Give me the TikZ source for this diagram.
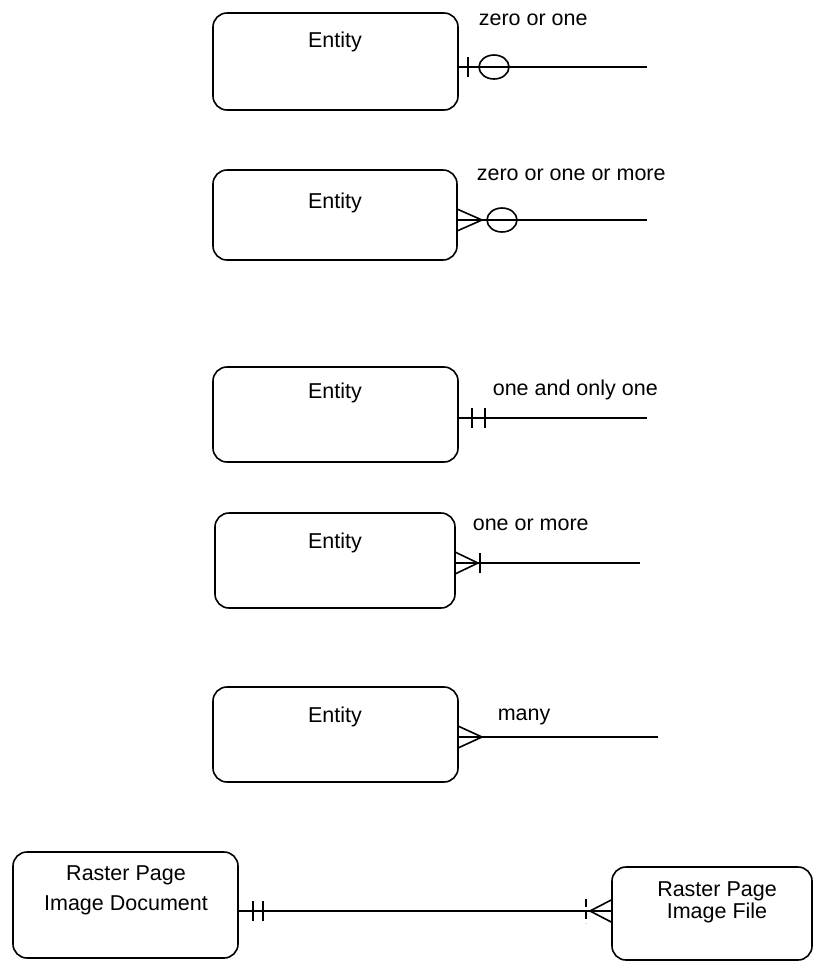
\documentclass[tikz,border=0pt]{standalone}
\usepackage{fontspec}
\setmainfont{Liberation Sans}
\begin{document}
\begin{tikzpicture}[x=1pt,y=-1pt,line width=1.6pt,
  ebox/.style={draw,rounded corners=14pt,inner sep=0pt},
  etext/.style={anchor=base,inner sep=0pt,font=\fontsize{21.5}{21.5}\selectfont},
  ltext/.style={anchor=base west,inner sep=0pt,font=\fontsize{21.5}{21.5}\selectfont},
  conn/.style={draw,line width=1.6pt},
  tick/.style={line width=1.3pt}]
\useasboundingbox (0,0) rectangle (814,962);

% boxes
\node[ebox,minimum width=245pt,minimum height=97pt] (e1) at (335.5,61.5) {};
\node[ebox,minimum width=244pt,minimum height=90pt] (e2) at (335,215) {};
\node[ebox,minimum width=245pt,minimum height=95pt] (e3) at (335.5,414.5) {};
\node[ebox,minimum width=240pt,minimum height=95pt] (e4) at (335,560.5) {};
\node[ebox,minimum width=245pt,minimum height=95pt] (e5) at (335.5,734.5) {};
\node[ebox,minimum width=225pt,minimum height=106pt] (e6) at (125.5,905) {};
\node[ebox,minimum width=200pt,minimum height=93pt] (e7) at (712,913.5) {};

% box texts
\node[etext] (t1) at (335,47) {Entity};
\node[etext] (t2) at (335,208) {Entity};
\node[etext] (t3) at (335,398) {Entity};
\node[etext] (t4) at (335,548) {Entity};
\node[etext] (t5) at (335,722) {Entity};
\node[etext] (t6a) at (126,880) {Raster Page};
\node[etext] (t6b) at (126,910) {Image Document};
\node[etext] (t7a) at (717,896) {Raster Page};
\node[etext] (t7b) at (717,918) {Image File};

% labels
\node[ltext] (l1) at (478,25) {zero or one};
\node[ltext] (l2) at (476,180) {zero or one or more};
\node[ltext] (l3) at (492,395) {one and only one};
\node[ltext] (l4) at (472,530) {one or more};
\node[ltext] (l5) at (497,720) {many};

% ends
\coordinate (b1) at (647,67);
\coordinate (b2) at (647,220);
\coordinate (b3) at (647,418);
\coordinate (b4) at (640,563);
\coordinate (b5) at (658,737);

% 1: zero or one
\draw[conn] (e1.east |- b1) -- (b1);
\draw[tick] (468,57) -- (468,77);
\draw[conn] (494,67) ellipse [x radius=15, y radius=12];

% 2: zero or one or more
\draw[conn] (e2.east |- b2) -- (b2);
\coordinate (f2) at (482,220);
\draw[conn] (457,209) -- (f2) -- (457,231);
\draw[conn] (502,220) ellipse [x radius=15, y radius=12];

% 3: one and only one
\draw[conn] (e3.east |- b3) -- (b3);
\draw[tick] (472,408) -- (472,428);
\draw[tick] (485,408) -- (485,428);

% 4: one or more
\draw[conn] (e4.east |- b4) -- (b4);
\coordinate (f4) at (478,563);
\draw[conn] (455,552) -- (f4) -- (455,574);
\draw[tick] (480,553) -- (480,573);

% 5: many
\draw[conn] (e5.east |- b5) -- (b5);
\coordinate (f5) at (482,737);
\draw[conn] (458,726) -- (f5) -- (458,748);

% 6: relationship
\coordinate (m6) at (400,911);
\draw[conn] (e6.east |- m6) -- (e7.west |- m6);
\draw[tick] (253,901) -- (253,921);
\draw[tick] (263,901) -- (263,921);
\coordinate (f7) at (590,911);
\draw[conn] (e7.west |- 0,900) -- (f7) -- (e7.west |- 0,922);
\draw[tick,dash pattern=on 8pt off 4pt] (586,899) -- (586,923);
\end{tikzpicture}
\end{document}
